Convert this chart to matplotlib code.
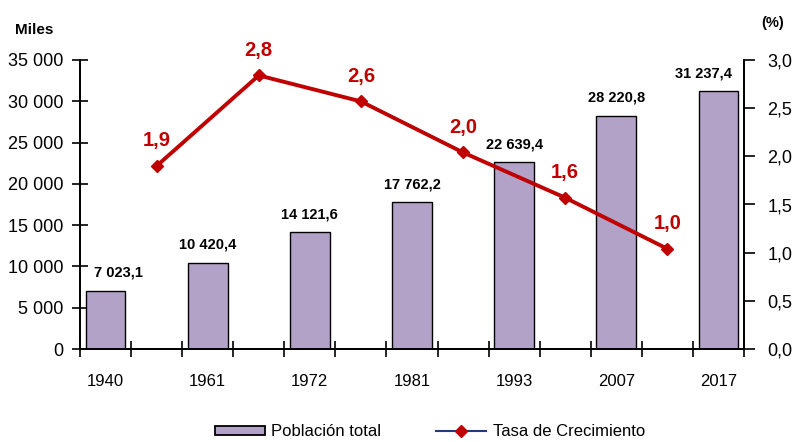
import matplotlib
matplotlib.use("Agg")
import matplotlib.pyplot as plt
from matplotlib.lines import Line2D
from matplotlib.patches import Patch

plt.rcParams['font.family'] = ['Liberation Sans', 'DejaVu Sans']

years = ["1940", "1961", "1972", "1981", "1993", "2007", "2017"]
poblacion = [7023.1, 10420.4, 14121.6, 17762.2, 22639.4, 28220.8, 31237.4]
tasa = [1.9, 2.84, 2.57, 2.04, 1.57, 1.04]

BAR = "#b3a2c7"
RED = "#c00000"
NAVY = "#1f3d7a"

fig = plt.figure(figsize=(7.96, 4.42), dpi=100)
ax = fig.add_axes([80/796, 1-349/442, (744-80)/796, (349-60)/442])
ax2 = ax.twinx()

# 13 slots: bars on even slots, growth rate between them
ncat = 2*len(years) - 1
bar_x = [2*i for i in range(len(years))]
line_x = [2*i + 1 for i in range(len(tasa))]

ax.bar(bar_x, poblacion, width=0.78, color=BAR, edgecolor="black", linewidth=1.0, zorder=2)
ax.set_xlim(-0.5, ncat - 0.5)
ax.set_ylim(0, 35000)
ax.set_yticks(range(0, 35001, 5000))
ax.set_yticklabels([f"{v:,}".replace(",", " ") for v in range(0, 35001, 5000)])

ax.set_xticks(bar_x)
ax.set_xticklabels(years)
ax.set_xticks([k + 0.5 for k in range(-1, ncat)], minor=True)
ax.tick_params(axis="x", which="major", length=0, pad=18, labelsize=12)
ax.tick_params(axis="x", which="minor", direction="inout", length=12, width=1.2)
ax.tick_params(axis="y", direction="inout", length=12, width=1.2, pad=6, labelsize=13)

dx = [9, 0, 0, 0, 0, 0, -11]
for i, v in enumerate(poblacion):
    lab = f"{v:,.1f}".replace(",", " ").replace(".", ",")
    ax.annotate(lab, (bar_x[i], v), xytext=(dx[i], 13), textcoords="offset points",
                ha="center", va="center", fontsize=10.5, fontweight="bold")

ax2.plot(line_x, tasa, color=RED, lw=2.8, marker="D", markersize=6.5, zorder=3)
ax2.set_ylim(0, 3.0)
ax2.set_yticks([0, 0.5, 1.0, 1.5, 2.0, 2.5, 3.0])
ax2.set_yticklabels([f"{v:.1f}".replace(".", ",") for v in [0, 0.5, 1.0, 1.5, 2.0, 2.5, 3.0]])
ax2.tick_params(axis="y", direction="out", length=8, width=1.2, pad=9, labelsize=13)
for x, v in zip(line_x, tasa):
    ax2.annotate(f"{v:.1f}".replace(".", ","), (x, v), xytext=(0, 18), textcoords="offset points",
                 ha="center", va="center", fontsize=14.5, fontweight="bold", color=RED)

for a in (ax, ax2):
    a.spines["top"].set_visible(False)
    for sp in ("left", "right", "bottom"):
        a.spines[sp].set_linewidth(1.3)
ax.set_zorder(ax2.get_zorder() - 1)
ax2.patch.set_visible(False)

fig.text(34/796, 1-30/442, "Miles", ha="center", va="center", fontsize=11, fontweight="bold")
fig.text(773/796, 1-23/442, "(%)", ha="center", va="center", fontsize=10.5, fontweight="bold")

handles = [Patch(facecolor=BAR, edgecolor="black", linewidth=1.3),
           Line2D([], [], color=NAVY, lw=1.5, marker="D", markersize=6,
                  markerfacecolor=RED, markeredgecolor=RED)]
fig.legend(handles, ["Población total", "Tasa de Crecimiento"], loc="center",
           bbox_to_anchor=(0.54, 1-432/442), ncol=2, frameon=False, fontsize=12,
           handlelength=3.0, handleheight=0.45, columnspacing=3.3, handletextpad=0.4,
           borderpad=0.2)

fig.savefig("out.png", dpi=100)
